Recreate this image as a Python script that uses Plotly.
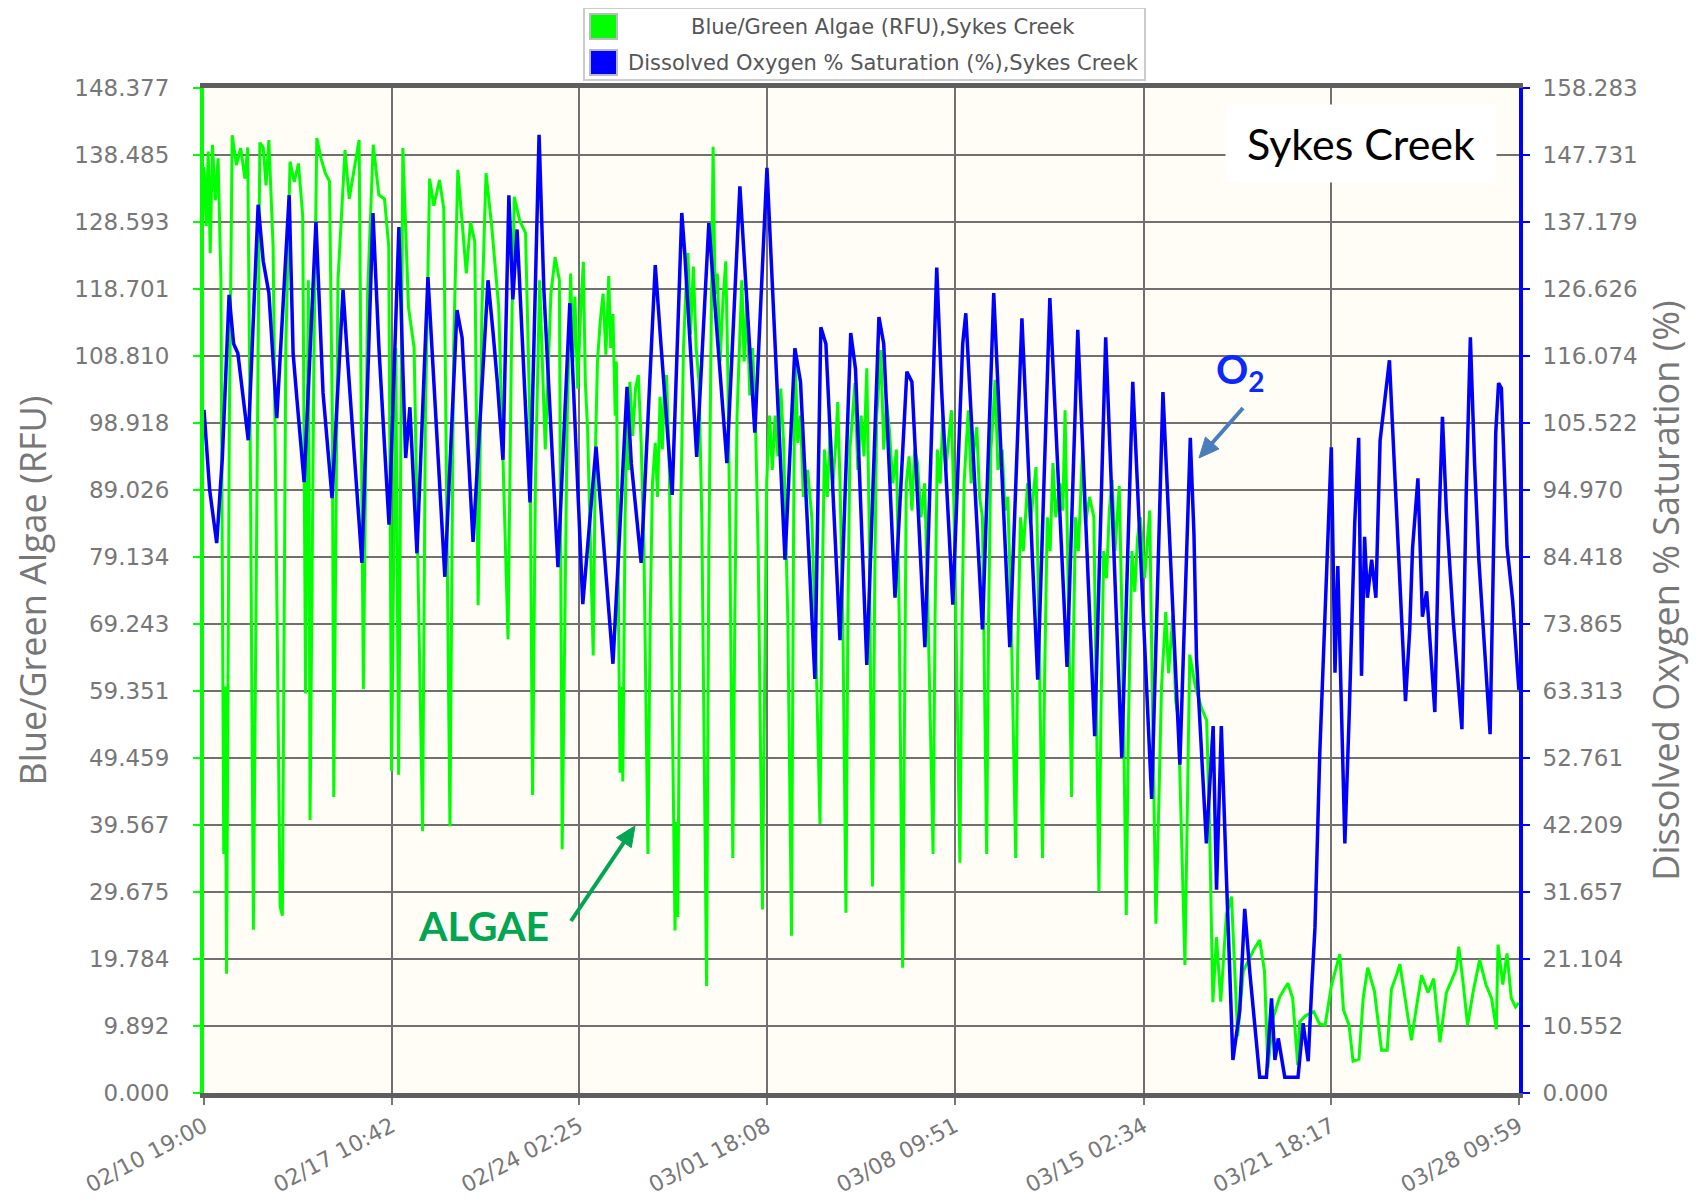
import pandas as pd
import plotly.graph_objects as go

# Sykes Creek sonde record, times are days after 02/10 19:00 (2020)
start = pd.Timestamp("2020-02-10 19:00")

x_tick_labels = ["02/10 19:00", "02/17 10:42", "02/24 02:25", "03/01 18:08",
                 "03/08 09:51", "03/15 02:34", "03/21 18:17", "03/28 09:59"]
algae_ticks = [0.000, 9.892, 19.784, 29.675, 39.567, 49.459, 59.351, 69.243,
               79.134, 89.026, 98.918, 108.810, 118.701, 128.593, 138.485, 148.377]
oxygen_ticks = [0.000, 10.552, 21.104, 31.657, 42.209, 52.761, 63.313, 73.865,
                84.418, 94.970, 105.522, 116.074, 126.626, 137.179, 147.731, 158.283]

algae_days = [
    0.00, 0.08, 0.15, 0.22, 0.30, 0.40, 0.50, 0.60, 0.70, 0.75, 0.80, 0.90,
    1.00, 1.15, 1.30, 1.45, 1.55, 1.65, 1.75, 1.85, 1.98, 2.10, 2.20, 2.30,
    2.45, 2.70, 2.78, 2.90, 3.05, 3.20, 3.35, 3.50, 3.60, 3.70, 3.76, 3.90,
    4.00, 4.15, 4.30, 4.45, 4.55, 4.60, 4.75, 5.00, 5.15, 5.30, 5.50, 5.65,
    5.80, 6.00, 6.20, 6.40, 6.55, 6.65, 6.80, 6.90, 7.05, 7.25, 7.45, 7.75,
    7.85, 8.00, 8.15, 8.35, 8.50, 8.72, 8.85, 9.00, 9.15, 9.30, 9.45, 9.60,
    9.72, 9.85, 10.00, 10.20, 10.45, 10.78, 10.90, 11.00, 11.20, 11.40, 11.55, 11.65,
    11.75, 11.90, 12.10, 12.30, 12.45, 12.60, 12.70,
    12.80, 12.88, 12.95, 13.00, 13.08, 13.15, 13.25, 13.35, 13.45, 13.52, 13.60, 13.70,
    13.80, 13.88, 13.95, 14.05, 14.15, 14.25, 14.35, 14.42, 14.50, 14.58, 14.62, 14.70,
    14.75, 14.80, 14.85, 14.93, 15.00, 15.05, 15.10, 15.20, 15.30, 15.40, 15.50, 15.60,
    15.74, 15.82, 15.90, 16.00, 16.08, 16.17, 16.25, 16.32, 16.40, 16.50, 16.60, 16.70,
    16.75, 16.80, 16.90, 17.00, 17.08, 17.16, 17.25, 17.35, 17.45, 17.55, 17.65, 17.75,
    17.82, 17.90, 17.98, 18.05, 18.12, 18.20, 18.30, 18.40, 18.50, 18.58, 18.65, 18.75,
    18.82, 18.90, 19.00, 19.07, 19.15, 19.25, 19.35, 19.45, 19.55, 19.65, 19.80, 19.88,
    19.95, 20.05, 20.15, 20.25, 20.35, 20.45, 20.55, 20.70, 20.83, 20.90, 20.95, 21.05,
    21.15, 21.25, 21.40, 21.55, 21.70, 21.84, 21.92, 22.00, 22.10, 22.20, 22.30, 22.40,
    22.47, 22.55, 22.65, 22.76, 22.83, 22.90, 23.00, 23.08, 23.18, 23.30, 23.40, 23.50,
    23.58, 23.70, 23.78, 23.85, 23.93, 24.00, 24.10, 24.20, 24.30, 24.42, 24.55, 24.65,
    24.77, 24.84, 24.90, 25.00, 25.10, 25.20, 25.30, 25.42, 25.55, 25.65, 25.85, 25.92,
    26.00, 26.10, 26.20, 26.30, 26.40, 26.50, 26.60, 26.70, 26.80, 26.88, 26.95, 27.03,
    27.10, 27.20, 27.30, 27.40, 27.50, 27.60, 27.68, 27.75, 27.82, 27.90, 27.98, 28.05,
    28.15, 28.30, 28.40, 28.50, 28.62, 28.78, 28.85, 28.95, 29.05, 29.20, 29.30, 29.40,
    29.50, 29.60, 29.73, 29.80, 29.90, 30.00, 30.10, 30.20, 30.35, 30.45, 30.53, 30.62,
    30.76, 30.82, 30.90, 31.00, 31.15, 31.25, 31.40, 31.55, 31.62, 31.73, 31.80, 31.90,
    32.00, 32.10, 32.20, 32.30, 32.45, 32.55, 32.70, 32.78, 32.90, 33.00, 33.10, 33.20,
    33.35, 33.53, 33.62, 33.75, 33.85, 33.95, 34.10, 34.20, 34.35, 34.45, 34.55, 34.65,
    34.78, 34.95, 35.15, 35.37, 35.55, 35.65, 35.77, 35.90, 36.05, 36.25,
    36.43, 36.65, 36.85, 37.20, 37.43, 37.60, 37.72, 37.90, 38.14, 38.43, 38.60, 38.78,
    38.85, 39.05, 39.35, 39.55, 39.75, 39.97, 40.27, 40.40, 40.60, 40.74, 40.95, 41.10,
    41.26, 41.50, 41.75, 41.95, 42.10, 42.28, 42.40, 42.60, 42.81, 43.00, 43.17, 43.40,
    43.60, 43.82, 44.05, 44.40, 44.49, 44.65, 44.80, 45.00, 45.23, 45.45, 45.65, 45.82,
    45.88, 46.05, 46.20, 46.35, 46.50, 46.62]
algae_rfu = [
    136.7, 128.0, 139.0, 124.0, 140.0, 131.8, 138.0, 120.0, 35.3, 60.0, 17.6, 100.0,
    141.4, 137.0, 139.5, 135.0, 139.6, 90.0, 24.1, 80.0, 140.3, 139.6, 134.0, 140.7,
    125.0, 27.5, 26.2, 110.0, 137.5, 134.5, 137.2, 129.5, 59.0, 120.0, 40.3, 110.0,
    141.0, 138.0, 135.8, 134.6, 100.0, 43.7, 120.0, 139.2, 132.0, 135.8, 140.7, 59.6,
    118.0, 140.0, 132.6, 132.0, 125.0, 47.5, 110.0, 47.0, 139.5, 116.0, 110.0, 38.7,
    100.0, 135.0, 131.0, 134.8, 130.6, 39.4, 110.0, 136.3, 129.0, 121.0, 128.6, 125.7,
    72.0, 115.0, 135.8, 128.0, 116.0, 67.0, 110.0, 132.3, 128.7, 127.0, 100.0, 44.0,
    90.0, 120.0, 95.0, 118.0, 123.4, 120.0, 36.0,
    75.0, 100.0, 112.0, 121.0, 108.0, 117.6, 104.0, 115.0, 122.7, 105.0, 98.0, 80.0,
    64.6, 95.0, 108.0, 114.0, 118.0, 109.0, 120.6, 110.0, 115.0, 100.0, 108.0, 70.0,
    47.3, 60.0, 46.0, 85.0, 100.0, 92.0, 105.0, 97.0, 104.0, 106.0, 96.0, 80.0,
    35.3, 70.0, 90.0, 96.0, 88.0, 102.8, 95.0, 104.0, 106.0, 92.0, 60.0, 24.0,
    40.0, 26.0, 85.0, 110.0, 118.0, 124.0, 112.0, 122.0, 110.0, 105.0, 85.0, 40.0,
    15.8, 80.0, 115.0, 139.7, 118.0, 121.0, 108.0, 117.0, 122.8, 105.0, 80.0, 34.7,
    70.0, 100.0, 112.0, 120.0, 108.0, 117.0, 103.0, 110.0, 100.0, 80.0, 27.1, 65.0,
    90.0, 100.0, 92.0, 100.0, 94.0, 104.0, 96.0, 70.0, 23.2, 80.0, 110.0, 96.0,
    100.0, 88.0, 92.0, 85.0, 65.0, 39.7, 75.0, 95.0, 88.0, 98.0, 90.0, 96.0,
    102.0, 90.0, 70.0, 26.6, 70.0, 95.0, 100.0, 104.8, 92.0, 100.0, 94.0, 107.0,
    85.0, 30.5, 75.0, 100.0, 105.0, 109.7, 95.0, 102.0, 98.0, 90.0, 95.0, 70.0,
    18.5, 65.0, 90.0, 94.0, 86.0, 95.0, 93.0, 85.0, 90.0, 75.0, 35.3, 70.0,
    95.0, 90.0, 100.0, 92.0, 97.0, 100.8, 85.0, 60.0, 34.0, 70.0, 90.0, 96.0,
    100.8, 90.0, 95.0, 98.3, 88.0, 85.0, 60.0, 35.3, 70.0, 95.0, 100.0, 105.3,
    92.0, 95.0, 86.0, 88.0, 70.0, 34.7, 65.0, 85.0, 80.0, 90.0, 84.0, 88.0,
    92.4, 70.0, 34.7, 60.0, 85.0, 80.0, 93.0, 85.0, 90.0, 86.0, 100.8, 80.0,
    43.7, 65.0, 85.0, 80.0, 95.0, 84.0, 88.0, 85.0, 60.0, 29.7, 55.0, 80.0,
    76.0, 86.0, 90.5, 80.0, 89.6, 70.0, 26.3, 55.0, 80.0, 74.0, 82.0, 85.0,
    76.0, 86.0, 60.0, 25.0, 42.0, 60.0, 71.0, 62.0, 70.5, 58.0, 55.0, 40.0,
    18.9, 64.7, 60.0, 56.8, 55.0, 40.0, 13.4, 23.0, 13.5, 26.3,
    29.0, 8.4, 18.0, 21.0, 22.6, 18.0, 3.7, 11.0, 14.2, 16.2, 14.0, 4.1,
    10.5, 11.4, 12.0, 10.2, 10.0, 15.8, 20.5, 12.3, 10.0, 4.7, 5.0, 14.0,
    18.5, 15.0, 6.3, 6.3, 15.3, 17.4, 19.0, 13.6, 7.8, 13.0, 17.4, 14.8,
    16.9, 7.5, 14.8, 18.3, 21.6, 16.0, 10.0, 15.0, 19.7, 16.0, 14.0, 9.4,
    21.9, 16.0, 20.6, 14.0, 12.7, 13.3]

oxygen_days = [
    0.00, 0.20, 0.45, 0.65, 0.89, 1.05, 1.20, 1.57, 1.92, 2.10, 2.30, 2.58,
    3.02, 3.16, 3.30, 3.55, 3.97, 4.22, 4.54, 4.93, 5.10, 5.60, 5.99, 6.20,
    6.56, 6.91, 7.05, 7.15, 7.30, 7.55, 7.94, 8.54, 8.97, 9.15, 9.54, 10.07,
    10.25, 10.40, 10.60, 10.81, 10.95, 11.10, 11.56, 11.88, 12.05, 12.55, 12.97, 13.43,
    13.90, 14.50, 15.00, 15.15, 15.50, 16.00, 16.20, 16.60, 16.94, 17.05, 17.47, 17.90,
    18.05, 18.54, 19.00, 19.53, 19.96, 20.60, 20.95, 21.15, 21.66, 21.87, 22.05, 22.55,
    22.93, 23.10, 23.50, 23.93, 24.10, 24.50, 24.92, 25.10, 25.56, 25.98, 26.15, 26.55,
    26.90, 27.01, 27.60, 28.00, 28.57, 29.00, 29.56, 29.99, 30.60, 30.98, 31.58, 31.97,
    32.54, 32.93, 33.60, 34.00, 34.60, 34.97, 35.10, 35.19, 35.54, 35.78, 35.90, 36.07,
    36.25, 36.48, 36.72, 36.90, 37.08, 37.43, 37.67, 37.85, 37.97, 38.09, 38.32, 38.79,
    38.97, 39.15, 39.27, 39.39, 39.56, 39.80, 39.97, 40.10, 40.20, 40.45, 40.60, 40.80,
    40.94, 41.04, 41.15, 41.25, 41.40, 41.55, 41.70, 42.03, 42.20, 42.35, 42.60, 42.75,
    42.85, 43.04, 43.20, 43.35, 43.64, 43.80, 43.91, 44.05, 44.30, 44.60, 44.75, 44.90,
    45.05, 45.20, 45.35, 45.60, 45.80, 45.90, 46.00, 46.20, 46.40, 46.62]
oxygen_pct = [
    107.6, 95.0, 86.6, 100.0, 125.7, 118.0, 116.5, 102.8, 139.9, 131.0, 126.0, 106.3,
    141.4, 116.5, 109.0, 96.2, 137.2, 110.3, 93.7, 126.5, 115.0, 83.5, 138.6, 117.5,
    89.5, 136.4, 114.0, 100.0, 108.0, 85.0, 128.5, 81.3, 123.3, 119.0, 86.8, 128.0,
    119.7, 112.0, 99.7, 141.4, 125.0, 136.0, 93.0, 150.9, 126.5, 82.8, 124.4, 77.0,
    101.8, 67.6, 111.2, 99.2, 83.5, 130.4, 118.0, 94.2, 138.6, 132.0, 100.2, 137.0,
    128.0, 99.2, 142.8, 104.0, 145.7, 84.0, 117.3, 112.0, 65.2, 120.6, 118.0, 71.3,
    119.7, 114.0, 67.4, 122.2, 118.0, 78.0, 113.6, 112.0, 70.2, 130.0, 111.0, 76.9,
    118.0, 122.8, 73.0, 126.0, 70.2, 122.0, 65.1, 125.2, 67.1, 120.2, 56.2, 119.0,
    52.8, 112.0, 46.3, 110.4, 51.7, 103.2, 88.0, 68.5, 39.3, 57.8, 32.0, 57.8,
    34.0, 5.2, 12.9, 29.0, 19.0, 2.5, 2.5, 14.9, 5.2, 8.6, 2.5, 2.5,
    11.0, 5.0, 16.2, 26.0, 53.4, 84.0, 101.7, 66.2, 83.0, 39.3, 59.0, 89.8,
    103.2, 65.7, 87.6, 78.0, 84.0, 78.0, 102.8, 115.4, 99.0, 85.8, 61.7, 73.0,
    85.8, 96.8, 75.0, 79.0, 60.0, 91.5, 106.5, 91.5, 74.0, 57.3, 94.0, 119.0,
    99.0, 84.0, 73.0, 56.5, 104.0, 111.8, 111.0, 86.0, 77.5, 63.5]

# page geometry: the page body offsets the figure by 8px, so the plot area
# is placed in figure pixels and annotations are given in screen pixels
W, H = 1704, 1203
OFF = 8
L, R, T, B = 204, 1519, 88, 1093   # plot area on screen


def px(x):
    return (x - L) / (R - L)


def py(y):
    return (B - y) / (B - T)


def arrow(x0, y0, x1, y1, color, width=4, head=20, half=9):
    # straight arrow from (x0, y0) to (x1, y1), screen pixels
    dx, dy = x1 - x0, y1 - y0
    n = (dx * dx + dy * dy) ** 0.5
    ux, uy = dx / n, dy / n
    bx, by = x1 - ux * head, y1 - uy * head
    lx, ly = bx - uy * half, by + ux * half
    rx, ry = bx + uy * half, by - ux * half
    line = dict(type="line", xref="paper", yref="paper",
                x0=px(x0), y0=py(y0), x1=px(bx + ux * 2), y1=py(by + uy * 2),
                line=dict(color=color, width=width), layer="above")
    tip = dict(type="path", xref="paper", yref="paper",
               path="M %f,%f L %f,%f L %f,%f Z" % (px(x1), py(y1), px(lx), py(ly), px(rx), py(ry)),
               line=dict(color=color, width=1), fillcolor=color, layer="above")
    return [line, tip]


algae_time = start + pd.to_timedelta(algae_days, unit="D")
oxygen_time = start + pd.to_timedelta(oxygen_days, unit="D")
x_ticks = pd.to_datetime(["2020/" + s for s in x_tick_labels], format="%Y/%m/%d %H:%M")

grid = "#707070"
tick_font = dict(family="DejaVu Sans", size=23, color="#777777")

fig = go.Figure()
fig.add_trace(go.Scatter(
    x=algae_time, y=algae_rfu, mode="lines",
    line=dict(color="#00ff00", width=3),
    name="Blue/Green Algae (RFU),Sykes Creek", showlegend=False))
fig.add_trace(go.Scatter(
    x=oxygen_time, y=oxygen_pct, mode="lines", yaxis="y2",
    line=dict(color="#0000ff", width=3.5),
    name="Dissolved Oxygen % Saturation (%),Sykes Creek", showlegend=False))

fig.update_layout(
    width=W, height=H,
    margin=dict(l=L - OFF, r=W - R + OFF, t=T - OFF, b=H - B + OFF, autoexpand=False),
    paper_bgcolor="white", plot_bgcolor="#fffdf5",
    xaxis=dict(
        type="date", range=[x_ticks[0], x_ticks[-1]],
        tickvals=x_ticks, ticktext=x_tick_labels, tickangle=-28,
        tickfont=dict(family="DejaVu Sans", size=22, color="#777777"),
        showgrid=True, gridcolor=grid, gridwidth=2,
        showline=True, linecolor="#5e5e5e", linewidth=5, mirror=True,
        ticks="outside", ticklen=7, tickcolor="#777777", tickwidth=2,
        zeroline=False),
    yaxis=dict(
        range=[0, algae_ticks[-1]], tickvals=algae_ticks,
        ticktext=["%.3f" % v for v in algae_ticks], tickfont=tick_font,
        showgrid=True, gridcolor=grid, gridwidth=2, zeroline=False,
        showline=True, linecolor="#00ff00", linewidth=4,
        ticks="outside", ticklen=7, tickcolor="#00ff00", tickwidth=2,
        ticklabelstandoff=19,
        title=dict(text="Blue/Green Algae (RFU)", standoff=35,
                   font=dict(family="Open Sans", size=36, color="#777777"))),
    yaxis2=dict(
        overlaying="y", side="right",
        range=[0, oxygen_ticks[-1]], tickvals=oxygen_ticks,
        ticktext=["%.3f" % v for v in oxygen_ticks], tickfont=tick_font,
        showgrid=False, zeroline=False,
        showline=True, linecolor="#0000ff", linewidth=4,
        ticks="outside", ticklen=7, tickcolor="#0000ff", tickwidth=2,
        ticklabelstandoff=8,
        title=dict(text="Dissolved Oxygen % Saturation (%)", standoff=18,
                   font=dict(family="Open Sans", size=36, color="#777777"))),
)

# legend box drawn by hand (centred entries like the original)
shapes = [
    dict(type="rect", xref="paper", yref="paper",
         x0=px(584), x1=px(1145), y0=py(80), y1=py(8),
         line=dict(color="#cccccc", width=2), fillcolor="white", layer="above"),
    dict(type="rect", xref="paper", yref="paper",
         x0=px(590), x1=px(617), y0=py(39), y1=py(14),
         line=dict(color="#bbbbbb", width=2), fillcolor="#00ff00", layer="above"),
    dict(type="rect", xref="paper", yref="paper",
         x0=px(590), x1=px(617), y0=py(75), y1=py(50),
         line=dict(color="#bbbbbb", width=2), fillcolor="#0000ff", layer="above"),
]
shapes += arrow(1243, 408, 1199, 458, "#4a7ebb")
shapes += arrow(571, 921, 635, 826, "#00a651")
fig.update_layout(shapes=shapes)

legend_font = dict(family="DejaVu Sans", size=21, color="#555555")
fig.add_annotation(xref="paper", yref="paper", x=px(883), y=py(27),
                   text="Blue/Green Algae (RFU),Sykes Creek", showarrow=False,
                   font=legend_font, xanchor="center", yanchor="middle")
fig.add_annotation(xref="paper", yref="paper", x=px(883), y=py(63),
                   text="Dissolved Oxygen % Saturation (%),Sykes Creek", showarrow=False,
                   font=legend_font, xanchor="center", yanchor="middle")

# callouts
fig.add_annotation(xref="paper", yref="paper", x=px(1361), y=py(143.5),
                   text="Sykes Creek", showarrow=False, bgcolor="white",
                   width=270, height=77, borderpad=0,
                   xanchor="center", yanchor="middle",
                   font=dict(family="Lato", size=43, color="black"))
fig.add_annotation(xref="paper", yref="paper", x=px(1240), y=py(372),
                   text="<b>O<sub>2</sub></b>", showarrow=False,
                   xanchor="center", yanchor="middle",
                   font=dict(family="Lato", size=40, color="#0a28ff"))
fig.add_annotation(xref="paper", yref="paper", x=px(483), y=py(925),
                   text="<b>ALGAE</b>", showarrow=False,
                   xanchor="center", yanchor="middle",
                   font=dict(family="Lato", size=41, color="#00a651"))

fig.write_html("out.html")
